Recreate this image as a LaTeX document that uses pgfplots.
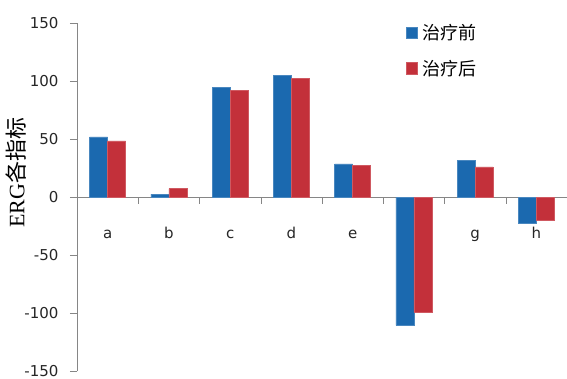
\documentclass[border=0pt]{standalone}
\usepackage{fontspec}
\setmainfont{DejaVu Sans}
\newfontfamily\cjk{Noto Sans CJK SC}
\newfontfamily\serifen{Liberation Serif}
\usepackage{pgfplots}
\pgfplotsset{compat=1.18}
\definecolor{barblue}{HTML}{1B69AF}
\definecolor{barred}{HTML}{C3303A}
\definecolor{axisgray}{HTML}{868686}
\begin{document}
\begin{tikzpicture}
\begin{axis}[
  name=ax,
  scale only axis, width=490pt, height=348.5pt,
  xmin=-0.5, xmax=7.5, ymin=-150, ymax=150,
  axis x line=middle, axis y line=left,
  axis line style={-, draw=axisgray},
  hide obscured x ticks=false, hide obscured y ticks=false,
  clip=false,
  ybar=0pt, bar width=18pt,
  xtick={0,1,2,3,4,5,6,7},
  xticklabels={a,b,c,d,e,f,g,h},
  minor xtick={0.5,1.5,2.5,3.5,4.5,5.5,6.5,7.5},
  major x tick style={draw=none},
  minor x tick style={draw=axisgray},
  ytick={-150,-100,-50,0,50,100,150},
  y tick style={draw=axisgray},
  tick align=outside,
  major tick length=7pt, minor tick length=6.5pt,
  /pgf/number format/assume math mode=true,
  tick label style={font=\fontsize{15}{18}\selectfont, text=black!85},
  xticklabel style={anchor=base, yshift=-34.5pt},
  yticklabel style={anchor=east, xshift=-8pt, inner ysep=1pt},
  ylabel={{\serifen ERG}{\cjk 各指标}},
  every axis y label/.style={at={(axis description cs:-0.1245,0.5696)}, rotate=90, anchor=center, font=\fontsize{22}{24}\selectfont},
  legend style={at={(axis description cs:0.671,1.003)}, anchor=north west, draw=none, fill=none,
    font=\cjk\fontsize{18}{20}\selectfont, row sep=15pt, inner sep=0pt, column sep=3pt, cells={anchor=west}},
  legend image code/.code={\fill[#1] (0pt,-5.5pt) rectangle (11pt,5.5pt);},
]
\addplot[fill=barblue, draw=barblue!80!white] coordinates {(0,52) (1,2.6) (2,94.5) (3,105) (4,28.7) (5,-110.3) (6,31.9) (7,-22.3)};
\addplot[fill=barred, draw=barred!80!white] coordinates {(0,48.6) (1,7.5) (2,92.2) (3,102.6) (4,27.6) (5,-98.6) (6,26.1) (7,-20)};
\legend{治疗前,治疗后}
\end{axis}
\pgfresetboundingbox
\path (ax.south west) ++(-77pt,-7.5pt) rectangle ++(567pt,379pt);
\end{tikzpicture}
\end{document}
